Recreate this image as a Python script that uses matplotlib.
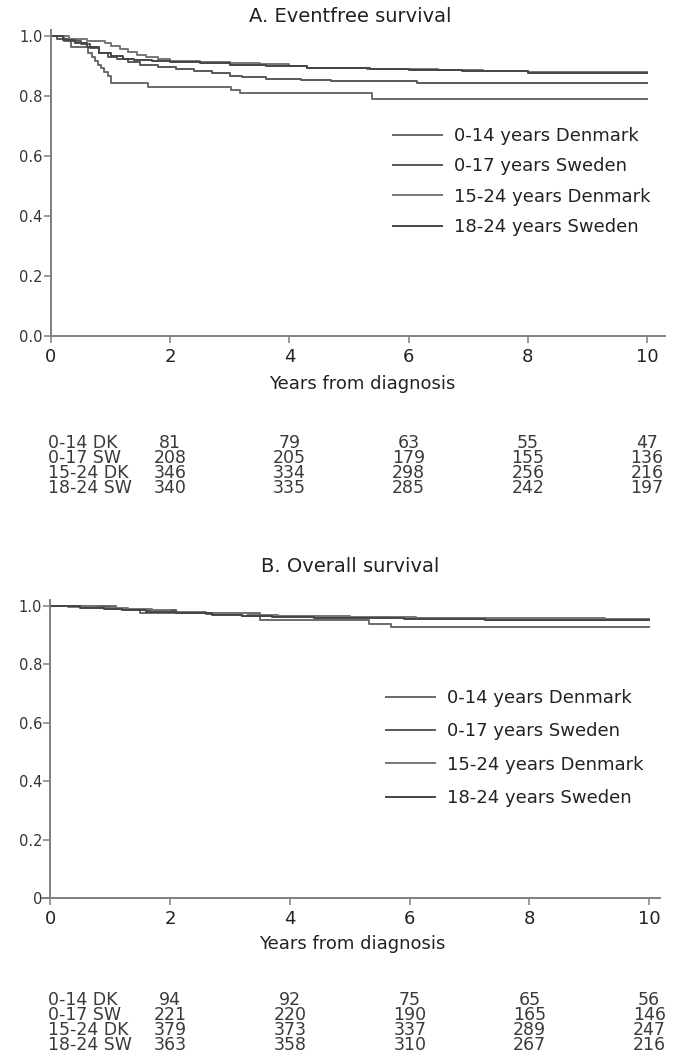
import matplotlib
matplotlib.use("Agg")
import matplotlib.pyplot as plt
from matplotlib.transforms import blended_transform_factory

W, H = 685, 1061

groups = ["0-14 years Denmark", "0-17 years Sweden", "15-24 years Denmark", "18-24 years Sweden"]
risk_labels = ["0-14 DK", "0-17 SW", "15-24 DK", "18-24 SW"]
risk_times = [2, 4, 6, 8, 10]

# A. event-free survival, step curves (time in years, survival)
efs_t_dk014 = [0, 0.22, 0.34, 0.62, 0.68, 0.74, 0.79, 0.84, 0.89, 0.95, 1.0, 1.62, 3.02, 3.17, 5.38, 10]
efs_s_dk014 = [1.0, 0.985, 0.965, 0.942, 0.93, 0.918, 0.905, 0.893, 0.88, 0.868, 0.843, 0.831, 0.82, 0.809, 0.789, 0.789]
efs_t_sw017 = [0, 0.1, 0.3, 0.5, 0.65, 0.8, 0.95, 1.1, 1.3, 1.5, 1.8, 2.1, 2.4, 2.7, 3.0, 3.2, 3.6, 4.2, 4.7, 6.14, 9.8, 10]
efs_s_sw017 = [1.0, 0.99, 0.985, 0.975, 0.96, 0.945, 0.93, 0.922, 0.914, 0.905, 0.897, 0.89, 0.884, 0.876, 0.868, 0.863, 0.857, 0.852, 0.849, 0.845, 0.842, 0.842]
efs_t_dk1524 = [0, 0.3, 0.6, 0.9, 1.0, 1.15, 1.3, 1.45, 1.6, 1.8, 2.0, 2.5, 3.0, 3.5, 4.0, 4.3, 5.3, 6.5, 7.25, 8.0, 10]
efs_s_dk1524 = [1.0, 0.99, 0.985, 0.978, 0.968, 0.958, 0.948, 0.938, 0.93, 0.922, 0.917, 0.914, 0.911, 0.906, 0.9, 0.894, 0.889, 0.886, 0.883, 0.879, 0.879]
efs_t_sw1824 = [0, 0.2, 0.4, 0.6, 0.8, 1.0, 1.2, 1.4, 1.7, 2.0, 2.5, 3.0, 3.6, 4.3, 5.35, 6.0, 6.9, 8.0, 10]
efs_s_sw1824 = [1.0, 0.988, 0.978, 0.962, 0.945, 0.932, 0.925, 0.92, 0.916, 0.912, 0.909, 0.905, 0.9, 0.895, 0.89, 0.887, 0.882, 0.876, 0.876]

# B. overall survival
os_t_dk014 = [0, 1.1, 1.49, 3.5, 5.32, 5.69, 10]
os_s_dk014 = [1.0, 0.989, 0.975, 0.95, 0.939, 0.927, 0.927]
os_t_sw017 = [0, 0.5, 1.0, 1.4, 2.1, 2.6, 3.2, 4.5, 5.9, 7.25, 10]
os_s_sw017 = [1.0, 0.995, 0.99, 0.985, 0.976, 0.971, 0.966, 0.962, 0.957, 0.952, 0.952]
os_t_dk1524 = [0, 0.3, 0.8, 1.3, 1.7, 2.0, 2.6, 3.3, 3.8, 5.0, 6.1, 7.25, 9.26, 10]
os_s_dk1524 = [1.0, 0.997, 0.994, 0.99, 0.985, 0.98, 0.975, 0.97, 0.966, 0.963, 0.96, 0.957, 0.954, 0.954]
os_t_sw1824 = [0, 0.5, 0.9, 1.2, 1.6, 2.1, 2.7, 3.2, 3.7, 4.4, 5.9, 7.25, 10]
os_s_sw1824 = [1.0, 0.994, 0.99, 0.986, 0.98, 0.975, 0.97, 0.965, 0.962, 0.959, 0.955, 0.95, 0.95]

efs_risk = [[81, 79, 63, 55, 47], [208, 205, 179, 155, 136], [346, 334, 298, 256, 216], [340, 335, 285, 242, 197]]
os_risk = [[94, 92, 75, 65, 56], [221, 220, 190, 165, 146], [379, 373, 337, 289, 247], [363, 358, 310, 267, 216]]

line_colors = ["#6a6a6a", "#585858", "#767676", "#454545"]
spine = "#7f7f7f"

plt.rcParams["font.family"] = ["DejaVu Sans"]

fig = plt.figure(figsize=(W / 100, H / 100), dpi=100)


def fy(px):
    return 1 - px / H


def setup(ax, xlim, ylabels):
    ax.set_xlim(*xlim)
    ax.set_ylim(0, 1.02)
    for s in ["top", "right"]:
        ax.spines[s].set_visible(False)
    for s in ["left", "bottom"]:
        ax.spines[s].set_color(spine)
        ax.spines[s].set_linewidth(1.4)
    ax.spines["left"].set_position(("data", 0))
    ax.set_xticks([0, 2, 4, 6, 8, 10])
    ax.set_yticks([0, 0.2, 0.4, 0.6, 0.8, 1.0])
    ax.set_yticklabels(ylabels)
    ax.tick_params(axis="x", direction="out", length=5, width=1.1, color=spine,
                   labelsize=13, labelcolor="#222222", pad=4)
    ax.tick_params(axis="y", direction="out", length=5, width=1.1, color=spine,
                   labelsize=10.5, labelcolor="#333333", pad=1)


def panel(ax, curves, legend_top, legend_x, spacing):
    for (t, s), c, lab in zip(curves, line_colors, groups):
        ax.plot(t, s, drawstyle="steps-post", color=c, lw=1.4, label=lab)
    ax.legend(loc="upper left", bbox_to_anchor=(legend_x / W, fy(legend_top)),
              bbox_transform=fig.transFigure, frameon=False, fontsize=13,
              handlelength=2.7, handletextpad=0.7, labelspacing=spacing,
              borderpad=0, borderaxespad=0, labelcolor="#222222")


def risk_table(ax, counts, row_y):
    tr = blended_transform_factory(ax.transData, fig.transFigure)
    for i, (lab, row) in enumerate(zip(risk_labels, counts)):
        y = fy(row_y[i])
        fig.text(48 / W, y, lab, fontsize=12.5, color="#3a3a3a", va="center", ha="left")
        for t, n in zip(risk_times, row):
            ax.text(t, y, str(n), transform=tr, fontsize=12.5, color="#3a3a3a",
                    va="center", ha="center")


# panel A
axA = fig.add_axes([51 / W, fy(336), 614 / W, 306 / H])
setup(axA, (0, 10.3), ["0.0", "0.2", "0.4", "0.6", "0.8", "1.0"])
panel(axA, [(efs_t_dk014, efs_s_dk014), (efs_t_sw017, efs_s_sw017),
            (efs_t_dk1524, efs_s_dk1524), (efs_t_sw1824, efs_s_sw1824)], 127, 393, 0.68)
fig.text(350 / W, fy(16), "A. Eventfree survival", fontsize=14, color="#222222",
         ha="center", va="center")
fig.text(362 / W, fy(384), "Years from diagnosis", fontsize=13, color="#222222",
         ha="center", va="center")
risk_table(axA, efs_risk, [443, 458, 473, 488])

# panel B
axB = fig.add_axes([41.5 / W, fy(898), 618.5 / W, 298 / H])
setup(axB, (-0.15, 10.18), ["0", "0.2", "0.4", "0.6", "0.8", "1.0"])
panel(axB, [(os_t_dk014, os_s_dk014), (os_t_sw017, os_s_sw017),
            (os_t_dk1524, os_s_dk1524), (os_t_sw1824, os_s_sw1824)], 689, 386, 0.85)
fig.text(350 / W, fy(567), "B. Overall survival", fontsize=14, color="#222222",
         ha="center", va="center")
fig.text(352 / W, fy(944), "Years from diagnosis", fontsize=13, color="#222222",
         ha="center", va="center")
risk_table(axB, os_risk, [1000, 1015, 1030, 1045])

fig.savefig("out.png", dpi=100)
